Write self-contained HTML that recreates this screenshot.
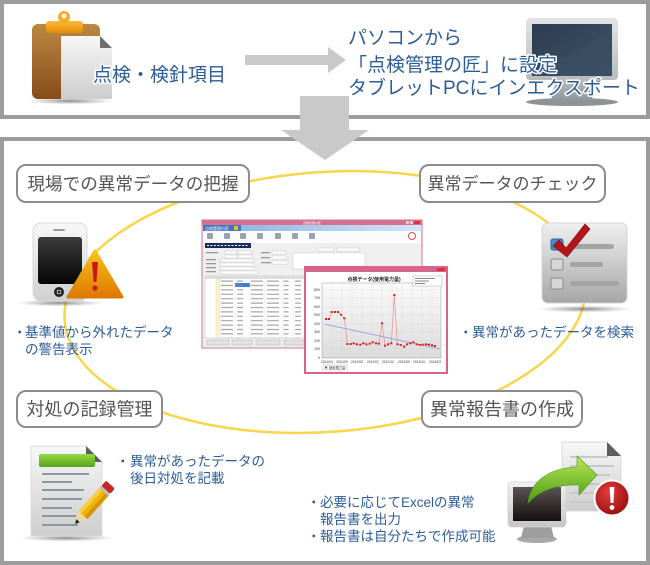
<!DOCTYPE html>
<html><head><meta charset="utf-8">
<style>
html,body{margin:0;padding:0;background:#fff;}
svg{display:block;}
text{font-family:"Liberation Sans","Noto Sans CJK JP",sans-serif;}
</style></head><body>
<svg width="650" height="565" viewBox="0 0 650 565" xmlns="http://www.w3.org/2000/svg">
<defs>
  <linearGradient id="gBrown" x1="0" y1="0" x2="0" y2="1"><stop offset="0" stop-color="#bb8942"/><stop offset="1" stop-color="#874b1b"/></linearGradient>
  <linearGradient id="gOrange" x1="0" y1="0" x2="0" y2="1"><stop offset="0" stop-color="#fbbb35"/><stop offset="1" stop-color="#e58c0c"/></linearGradient>
  <linearGradient id="gPaper" x1="0" y1="0" x2="0" y2="1"><stop offset="0" stop-color="#f7f7f7"/><stop offset="1" stop-color="#cdcdcd"/></linearGradient>
  <linearGradient id="gBezel" x1="0" y1="0" x2="0" y2="1"><stop offset="0" stop-color="#e2e4e5"/><stop offset="1" stop-color="#b8bbbd"/></linearGradient>
  <linearGradient id="gScreen" x1="0" y1="0" x2="1" y2="1"><stop offset="0" stop-color="#2d3d50"/><stop offset="1" stop-color="#3e5369"/></linearGradient>
  <linearGradient id="gNeck" x1="0" y1="0" x2="0" y2="1"><stop offset="0" stop-color="#b6bcbf"/><stop offset="1" stop-color="#8e979b"/></linearGradient>
  <linearGradient id="gPhone" x1="0" y1="0" x2="0" y2="1"><stop offset="0" stop-color="#f8f8f8"/><stop offset="1" stop-color="#d0d0d0"/></linearGradient>
  <linearGradient id="gPhScr" x1="0" y1="0" x2="0" y2="1"><stop offset="0" stop-color="#3c3c3c"/><stop offset="1" stop-color="#050505"/></linearGradient>
  <linearGradient id="gWarn" x1="0" y1="0" x2="0" y2="1"><stop offset="0" stop-color="#f9c21c"/><stop offset="1" stop-color="#de7800"/></linearGradient>
  <linearGradient id="gCheck" x1="0" y1="0" x2="0" y2="1"><stop offset="0" stop-color="#f0f0f0"/><stop offset="1" stop-color="#a6a6a6"/></linearGradient>
  <linearGradient id="gGreen" x1="0" y1="0" x2="0" y2="1"><stop offset="0" stop-color="#94d840"/><stop offset="1" stop-color="#58a41c"/></linearGradient>
  <linearGradient id="gArrow" x1="0" y1="0" x2="0" y2="1"><stop offset="0" stop-color="#b8e858"/><stop offset="1" stop-color="#4a9c14"/></linearGradient>
  <linearGradient id="gMon2" x1="0" y1="0" x2="0" y2="1"><stop offset="0" stop-color="#f2f2f2"/><stop offset="1" stop-color="#c6c6c6"/></linearGradient>
  <linearGradient id="gMonScr" x1="0" y1="0" x2="0" y2="1"><stop offset="0" stop-color="#5c5454"/><stop offset="1" stop-color="#140f0f"/></linearGradient>
  <radialGradient id="gRed" cx="0.4" cy="0.35" r="0.7"><stop offset="0" stop-color="#e23c3c"/><stop offset="1" stop-color="#980c0c"/></radialGradient>
  <radialGradient id="gShadow" cx="0.5" cy="0.5" r="0.5"><stop offset="0" stop-color="#666" stop-opacity="0.75"/><stop offset="1" stop-color="#888" stop-opacity="0"/></radialGradient>
  <linearGradient id="gPlot" x1="0" y1="0" x2="0" y2="1"><stop offset="0" stop-color="#fbfbfb"/><stop offset="1" stop-color="#dcdcdc"/></linearGradient>
  <linearGradient id="gRib" x1="0" y1="0" x2="1" y2="0"><stop offset="0" stop-color="#7fb0e0"/><stop offset="1" stop-color="#d4e5f5"/></linearGradient>
</defs>

<rect width="650" height="565" fill="#fff"/>

<!-- frames -->
<rect x="2" y="2" width="646" height="115" fill="#fff" stroke="#9c9c9c" stroke-width="4"/>
<rect x="2" y="139" width="646" height="424" fill="#fff" stroke="#9c9c9c" stroke-width="4"/>

<!-- down arrow -->
<polygon points="300,96 349,96 349,130 369,130 325,160 281,130 300,130" fill="#c9c9c9"/>

<!-- right arrow -->
<polygon points="245,55 328,55 328,47 346,60 328,73 328,65 245,65" fill="#c9c9c9"/>

<!-- clipboard icon -->
<ellipse cx="70" cy="101" rx="44" ry="3.5" fill="url(#gShadow)"/>
<rect x="32" y="24" width="68" height="75" rx="6" fill="url(#gBrown)"/>
<rect x="46" y="21" width="37" height="12" rx="3" fill="url(#gOrange)"/>
<circle cx="64" cy="17" r="6" fill="#f6ad25"/>
<circle cx="64" cy="16" r="2.5" fill="#fff"/>
<path d="M61 36 H100 L112 48 V99 H61 Z" fill="url(#gPaper)"/>
<path d="M100 36 L112 48 H100 Z" fill="#6f6f6f"/>

<!-- monitor icon top-right -->
<ellipse cx="572" cy="102" rx="46" ry="4" fill="#8c9498"/>
<path d="M556 80 H588 L593 100 H551 Z" fill="url(#gNeck)"/>
<rect x="526" y="18" width="92" height="62" rx="4" fill="url(#gBezel)"/>
<rect x="532" y="24" width="80" height="52" fill="url(#gScreen)"/>
<path d="M532 76 L612 30 V76 Z" fill="#3a4e63" opacity="0.7"/>

<!-- top texts -->
<g font-size="19" fill="#2c5d99" stroke="#fff" stroke-width="3" paint-order="stroke" stroke-linejoin="round">
  <text x="93" y="81">点検・検針項目</text>
  <text x="348" y="44">パソコンから</text>
  <text x="348" y="71">「点検管理の匠」に設定</text>
  <text x="348" y="94">タブレットPCにインエクスポート</text>
</g>

<!-- yellow ellipse -->
<ellipse cx="325" cy="302" rx="261" ry="130" transform="rotate(-4 325 302)" fill="none" stroke="#f8d54a" stroke-width="2.5"/>

<!-- labels -->
<g fill="#fff" stroke="#8c8c8c" stroke-width="2">
  <rect x="17" y="165" width="232" height="37" rx="9"/>
  <rect x="420" y="165" width="185" height="37" rx="9"/>
  <rect x="17" y="391" width="145" height="36" rx="9"/>
  <rect x="422" y="391" width="160" height="36" rx="9"/>
</g>
<g font-size="18" fill="#555" text-anchor="middle" dominant-baseline="central">
  <text x="133" y="184" font-size="17.6">現場での異常データの把握</text>
  <text x="512.5" y="184" font-size="17">異常データのチェック</text>
  <text x="89.5" y="409.5">対処の記録管理</text>
  <text x="502" y="409.5">異常報告書の作成</text>
</g>

<!-- phone + warning -->
<ellipse cx="60" cy="303" rx="44" ry="3.5" fill="url(#gShadow)"/>
<rect x="33" y="223" width="54" height="78" rx="8" fill="url(#gPhone)" stroke="#d8d8d8" stroke-width="1"/>
<rect x="53" y="229" width="12" height="2" rx="1" fill="#9a9a9a"/>
<rect x="38" y="237" width="44" height="47" rx="3" fill="url(#gPhScr)"/>
<circle cx="59" cy="292" r="5" fill="#222"/>
<rect x="57.3" y="290.3" width="3.4" height="3.4" fill="none" stroke="#ccc" stroke-width="0.8"/>
<path d="M95 251 L122 297 L68 297 Z" fill="url(#gWarn)" stroke="url(#gWarn)" stroke-width="3" stroke-linejoin="round"/>
<path d="M92 262 H98 L96.4 282 H93.6 Z" fill="#cc1616"/>
<circle cx="95" cy="288" r="2.6" fill="#cc1616"/>

<!-- checklist icon -->
<ellipse cx="585" cy="309" rx="48" ry="3.5" fill="url(#gShadow)"/>
<rect x="542" y="223" width="85" height="80" rx="6" fill="url(#gCheck)" stroke="#d4d4d4" stroke-width="1"/>
<rect x="570" y="244" width="44" height="5" rx="2.5" fill="#a4a4a4"/>
<rect x="570" y="262" width="33" height="5" rx="2.5" fill="#a4a4a4"/>
<rect x="570" y="281" width="49" height="5" rx="2.5" fill="#a4a4a4"/>
<rect x="551" y="239" width="12" height="11" rx="2" fill="#3b8fca" stroke="#2a6a98" stroke-width="1"/>
<rect x="551" y="259" width="12" height="11" rx="2" fill="#d6d6d6" stroke="#8a8a8a" stroke-width="1"/>
<rect x="551" y="278" width="12" height="11" rx="2" fill="#d6d6d6" stroke="#8a8a8a" stroke-width="1"/>
<path d="M553 246 L559 240 L566 248 L585 224 L590 229 L567 257 Z" fill="#b3151b" stroke="#7e0c10" stroke-width="0.6"/>

<!-- document + pencil -->
<ellipse cx="66" cy="538" rx="48" ry="3.5" fill="url(#gShadow)"/>
<path d="M31 446 H86 L102 462 V536 H31 Z" fill="url(#gPaper)" stroke="#dcdcdc" stroke-width="1"/>
<path d="M86 446 L102 462 H86 Z" fill="#5e5e5e"/>
<rect x="39" y="454" width="56" height="13" rx="2" fill="url(#gGreen)"/>
<g fill="#8a98a6">
  <rect x="42" y="473" width="47" height="2"/>
  <rect x="42" y="481" width="30" height="2"/>
  <rect x="42" y="489" width="42" height="2"/>
  <rect x="42" y="498" width="40" height="2"/>
  <rect x="42" y="507" width="30" height="2"/>
  <rect x="42" y="515" width="34" height="2"/>
  <rect x="42" y="524" width="36" height="2"/>
</g>
<g transform="translate(75 524) rotate(-48)">
  <polygon points="0,0 12,-6 12,6" fill="#f2d6a0"/>
  <polygon points="0,0 4.5,-2.3 4.5,2.3" fill="#222"/>
  <rect x="12" y="-6" width="31" height="12" fill="#f0b400"/>
  <rect x="12" y="-6" width="31" height="4" fill="#f8cd45"/>
  <rect x="12" y="2" width="31" height="4" fill="#d69400"/>
  <rect x="43" y="-6" width="3" height="12" fill="#bdbdbd"/>
  <rect x="46" y="-6" width="7" height="12" rx="2" fill="#c5262a"/>
</g>

<!-- export icon -->
<path d="M562 442 H607 L621 456 V511 H562 Z" fill="url(#gPaper)" stroke="#dadada" stroke-width="1"/>
<path d="M607 442 L621 456 H607 Z" fill="#5e5e5e"/>
<g fill="#c8c8c8">
  <rect x="570" y="456" width="38" height="2"/>
  <rect x="570" y="465" width="44" height="2"/>
  <rect x="570" y="474" width="40" height="2"/>
  <rect x="570" y="483" width="30" height="2"/>
  <rect x="570" y="492" width="26" height="2"/>
  <rect x="570" y="501" width="30" height="2"/>
</g>
<ellipse cx="537" cy="539" rx="20" ry="4" fill="#a9a9a9"/>
<path d="M524 526 H551 L554 538 H521 Z" fill="#9e9e9e"/>
<rect x="508" y="482" width="58" height="45" rx="4" fill="url(#gMon2)" stroke="#d0d0d0" stroke-width="0.8"/>
<rect x="513" y="487" width="48" height="34" fill="url(#gMonScr)"/>
<path d="M528 503 C530 484 546 468 577 467 L577 456 L597 475 L579 495 L579 485 C558 484 540 490 528 503 Z" fill="url(#gArrow)" stroke="#4a9a16" stroke-width="0.6"/>
<circle cx="612" cy="498" r="17.5" fill="url(#gRed)" stroke="#fff" stroke-width="2"/>
<path d="M609.6 487 H614.4 L613.4 503 H610.6 Z" fill="#fff"/>
<circle cx="612" cy="507.5" r="2.4" fill="#fff"/>

<!-- blue descriptive texts -->
<g font-size="13.5" fill="#2c5d99">
  <text x="13" y="337">・</text><text x="25" y="337">基準値から外れたデータ</text>
  <text x="25" y="354">の警告表示</text>
  <text x="459" y="337">・</text><text x="472" y="337">異常があったデータを検索</text>
  <text x="116" y="466">・</text><text x="130" y="466">異常があったデータの</text>
  <text x="130" y="483">後日対処を記載</text>
  <text x="307" y="507">・</text><text x="320" y="507">必要に応じてExcelの異常</text>
  <text x="320" y="524">報告書を出力</text>
  <text x="307" y="541">・</text><text x="320" y="541">報告書は自分たちで作成可能</text>
</g>

<!-- center screenshot: back window -->
<g>
  <rect x="202" y="220" width="220" height="128" fill="#efefef" stroke="#d7708f" stroke-width="1"/>
  <rect x="202" y="220" width="220" height="5" fill="#d7708f"/>
  <text x="312" y="224" font-size="3" fill="#fff" text-anchor="middle">点検管理の匠</text>
  <rect x="406" y="221" width="3" height="3" fill="#f3c8d4"/>
  <rect x="410" y="221" width="3" height="3" fill="#f3c8d4"/>
  <rect x="414" y="221" width="6" height="3" fill="#e03040"/>
  <rect x="203" y="225" width="218" height="6" fill="url(#gRib)"/>
  <rect x="203" y="225" width="38" height="6" fill="#3f78bd"/>
  <text x="205" y="230" font-size="4" fill="#fff">点検管理の匠</text>
  <rect x="234" y="226" width="4" height="4" fill="#e8c030"/>
  <rect x="203" y="231" width="218" height="12" fill="#fbfbfb"/>
  <g fill="#9aa4b0">
    <rect x="207" y="233" width="6" height="6" rx="1"/>
    <rect x="224" y="233" width="6" height="6" rx="1"/>
    <rect x="240" y="233" width="6" height="6" rx="1"/>
    <rect x="257" y="233" width="6" height="6" rx="1"/>
    <rect x="275" y="233" width="6" height="6" rx="1"/>
    <rect x="292" y="233" width="6" height="6" rx="1"/>
    <rect x="309" y="233" width="6" height="6" rx="1"/>
  </g>
  <circle cx="412" cy="236" r="3.5" fill="none" stroke="#e05050" stroke-width="1"/>
  <rect x="205" y="243" width="46" height="5" fill="#1c2b5e"/>
  <line x1="207" y1="245.5" x2="249" y2="245.5" stroke="#fff" stroke-width="1" stroke-dasharray="2 1.5"/>
  <g fill="#fff" stroke="#bbb" stroke-width="0.4">
    <rect x="225" y="251" width="12" height="3"/>
    <rect x="238" y="251" width="14" height="3"/>
    <rect x="225" y="255" width="12" height="3"/>
    <rect x="238" y="255" width="14" height="3"/>
    <rect x="220" y="259" width="34" height="3"/>
    <rect x="220" y="263" width="34" height="3"/>
    <rect x="220" y="267" width="34" height="3"/>
    <rect x="220" y="271" width="38" height="3"/>
    <rect x="272" y="251" width="14" height="3"/>
    <rect x="272" y="256" width="14" height="3"/>
    <rect x="272" y="261" width="16" height="3"/>
    <rect x="293" y="253" width="72" height="16"/>
    <rect x="318" y="248" width="16" height="3"/>
    <rect x="337" y="248" width="22" height="3"/>
  </g>
  <g fill="#999">
    <rect x="206" y="252" width="12" height="1.3"/>
    <rect x="206" y="259" width="10" height="1.3"/>
    <rect x="206" y="263" width="10" height="1.3"/>
    <rect x="206" y="267" width="10" height="1.3"/>
    <rect x="206" y="271" width="10" height="1.3"/>
    <rect x="261" y="252" width="9" height="1.3"/>
    <rect x="261" y="257" width="9" height="1.3"/>
    <rect x="261" y="262" width="10" height="1.3"/>
  </g>
  <!-- table -->
  <rect x="205" y="276" width="100" height="62" fill="#fff" stroke="#bcbcbc" stroke-width="0.5"/>
  <rect x="205" y="276" width="100" height="3" fill="#dcdcdc"/>
  <rect x="216" y="279" width="4" height="59" fill="#fbf3c4"/>
  <rect x="235" y="283" width="15" height="4" fill="#3a7ed8"/>
  <g stroke="#d4d4d4" stroke-width="0.4">
    <line x1="216" y1="276" x2="216" y2="338"/>
    <line x1="220" y1="276" x2="220" y2="338"/>
    <line x1="235" y1="276" x2="235" y2="338"/>
    <line x1="250" y1="276" x2="250" y2="338"/>
    <line x1="265" y1="276" x2="265" y2="338"/>
    <line x1="282" y1="276" x2="282" y2="338"/>
    <line x1="293" y1="276" x2="293" y2="338"/>
  </g>
  <g stroke="#8a8a8a" stroke-opacity="0.75" stroke-dasharray="1.2 3.2">
    <line x1="227" y1="280.5" x2="227" y2="338" stroke-width="12"/>
    <line x1="240" y1="280.5" x2="240" y2="338" stroke-width="6"/>
    <line x1="257" y1="280.5" x2="257" y2="338" stroke-width="12"/>
    <line x1="273" y1="280.5" x2="273" y2="338" stroke-width="12"/>
    <line x1="286" y1="280.5" x2="286" y2="338" stroke-width="5"/>
    <line x1="298" y1="280.5" x2="298" y2="338" stroke-width="6"/>
  </g>
  <g fill="#e2e2e2" stroke="#aaa" stroke-width="0.4">
    <rect x="207" y="340" width="22" height="5"/>
    <rect x="232" y="340" width="20" height="5"/>
    <rect x="256" y="340" width="24" height="5"/>
    <rect x="284" y="340" width="20" height="5"/>
  </g>
</g>

<!-- center screenshot: front chart window -->
<g>
  <rect x="305" y="267" width="142" height="106" fill="#fff" stroke="#d4668a" stroke-width="2"/>
  <rect x="305" y="267" width="142" height="5" fill="#d4668a"/>
  <rect x="437" y="268" width="8" height="3" fill="#e03040"/>
  <text x="374" y="281" font-size="5" font-weight="bold" fill="#222" text-anchor="middle">点検データ(使用電力量)</text>
  <rect x="322" y="283" width="119" height="75" fill="url(#gPlot)" stroke="#999" stroke-width="0.5"/>
  <g stroke="#c8c8c8" stroke-width="0.4" stroke-dasharray="1 1">
    <line x1="332" y1="283" x2="332" y2="358"/><line x1="342" y1="283" x2="342" y2="358"/>
    <line x1="352" y1="283" x2="352" y2="358"/><line x1="362" y1="283" x2="362" y2="358"/>
    <line x1="372" y1="283" x2="372" y2="358"/><line x1="382" y1="283" x2="382" y2="358"/>
    <line x1="392" y1="283" x2="392" y2="358"/><line x1="402" y1="283" x2="402" y2="358"/>
    <line x1="412" y1="283" x2="412" y2="358"/><line x1="422" y1="283" x2="422" y2="358"/>
    <line x1="432" y1="283" x2="432" y2="358"/>
    <line x1="322" y1="290" x2="441" y2="290"/><line x1="322" y1="298" x2="441" y2="298"/>
    <line x1="322" y1="307" x2="441" y2="307"/><line x1="322" y1="315" x2="441" y2="315"/>
    <line x1="322" y1="324" x2="441" y2="324"/><line x1="322" y1="332" x2="441" y2="332"/>
    <line x1="322" y1="341" x2="441" y2="341"/><line x1="322" y1="349" x2="441" y2="349"/>
  </g>
  <g font-size="3.5" fill="#333" text-anchor="end">
    <text x="320" y="291">800</text><text x="320" y="299">700</text><text x="320" y="308">600</text>
    <text x="320" y="316">500</text><text x="320" y="325">400</text><text x="320" y="333">300</text>
    <text x="320" y="342">200</text><text x="320" y="350">100</text><text x="320" y="359">0</text>
  </g>
  <g font-size="3.3" fill="#333" text-anchor="middle">
    <text x="327" y="363">2011/04</text><text x="342" y="363">2011/09</text><text x="357" y="363">2012/02</text>
    <text x="373" y="363">2012/07</text><text x="388" y="363">2012/12</text><text x="404" y="363">2013/05</text>
    <text x="419" y="363">2013/10</text><text x="435" y="363">2014/03</text>
  </g>
  <rect x="413" y="276" width="29" height="10" fill="#fff" stroke="#999" stroke-width="0.4"/>
  <g fill="#888"><rect x="415" y="278" width="20" height="1"/><rect x="415" y="280.5" width="14" height="1"/><rect x="415" y="283" width="10" height="1"/></g>
  <line x1="324" y1="324" x2="440" y2="349" stroke="#9ea4ec" stroke-width="1"/>
  <polyline fill="none" stroke="#f09090" stroke-width="0.7" points="326,319 329,319 331.7,312 335,312 338,312 341,314.7 344.3,318.3 347.3,344 350.7,344 353.7,343.3 357,344.3 360.3,344.7 363.3,343.3 366.3,344.3 369.7,343.7 372.7,342.3 376,343.3 379,343.7 382,323.3 385,345.7 388,344.3 391.3,343.3 394.3,295 397.3,344.3 400.7,345 404,346.7 407,344.3 410.3,343.3 413.3,342.3 416.7,344.3 419.7,345 422.7,344.7 426,344.3 429,344.7 432,345.3 435,346"/>
  <g fill="#e41e1e">
    <rect x="325" y="318" width="2" height="2"/><rect x="328" y="318" width="2" height="2"/><rect x="330.7" y="311" width="2" height="2"/>
    <rect x="334" y="311" width="2" height="2"/><rect x="337" y="311" width="2" height="2"/><rect x="340" y="313.7" width="2" height="2"/>
    <rect x="343.3" y="317.3" width="2" height="2"/><rect x="346.3" y="343" width="2" height="2"/><rect x="349.7" y="343" width="2" height="2"/>
    <rect x="352.7" y="342.3" width="2" height="2"/><rect x="356" y="343.3" width="2" height="2"/><rect x="359.3" y="343.7" width="2" height="2"/>
    <rect x="362.3" y="342.3" width="2" height="2"/><rect x="365.3" y="343.3" width="2" height="2"/><rect x="368.7" y="342.7" width="2" height="2"/>
    <rect x="371.7" y="341.3" width="2" height="2"/><rect x="375" y="342.3" width="2" height="2"/><rect x="378" y="342.7" width="2" height="2"/>
    <rect x="381" y="322.3" width="2" height="2"/><rect x="384" y="344.7" width="2" height="2"/><rect x="387" y="343.3" width="2" height="2"/>
    <rect x="390.3" y="342.3" width="2" height="2"/><rect x="393.3" y="294" width="2" height="2"/><rect x="396.3" y="343.3" width="2" height="2"/>
    <rect x="399.7" y="344" width="2" height="2"/><rect x="403" y="345.7" width="2" height="2"/><rect x="406" y="343.3" width="2" height="2"/>
    <rect x="409.3" y="342.3" width="2" height="2"/><rect x="412.3" y="341.3" width="2" height="2"/><rect x="415.7" y="343.3" width="2" height="2"/>
    <rect x="418.7" y="344" width="2" height="2"/><rect x="421.7" y="343.7" width="2" height="2"/><rect x="425" y="343.3" width="2" height="2"/>
    <rect x="428" y="343.7" width="2" height="2"/><rect x="431" y="344.3" width="2" height="2"/><rect x="434" y="345" width="2" height="2"/>
  </g>
  <rect x="323" y="365" width="24" height="5" fill="#fff" stroke="#999" stroke-width="0.4"/>
  <rect x="325" y="366.5" width="2" height="2" fill="#e41e1e"/>
  <text x="329" y="369" font-size="3.3" fill="#333">使用電力量</text>
</g>
</svg>
</body></html>
